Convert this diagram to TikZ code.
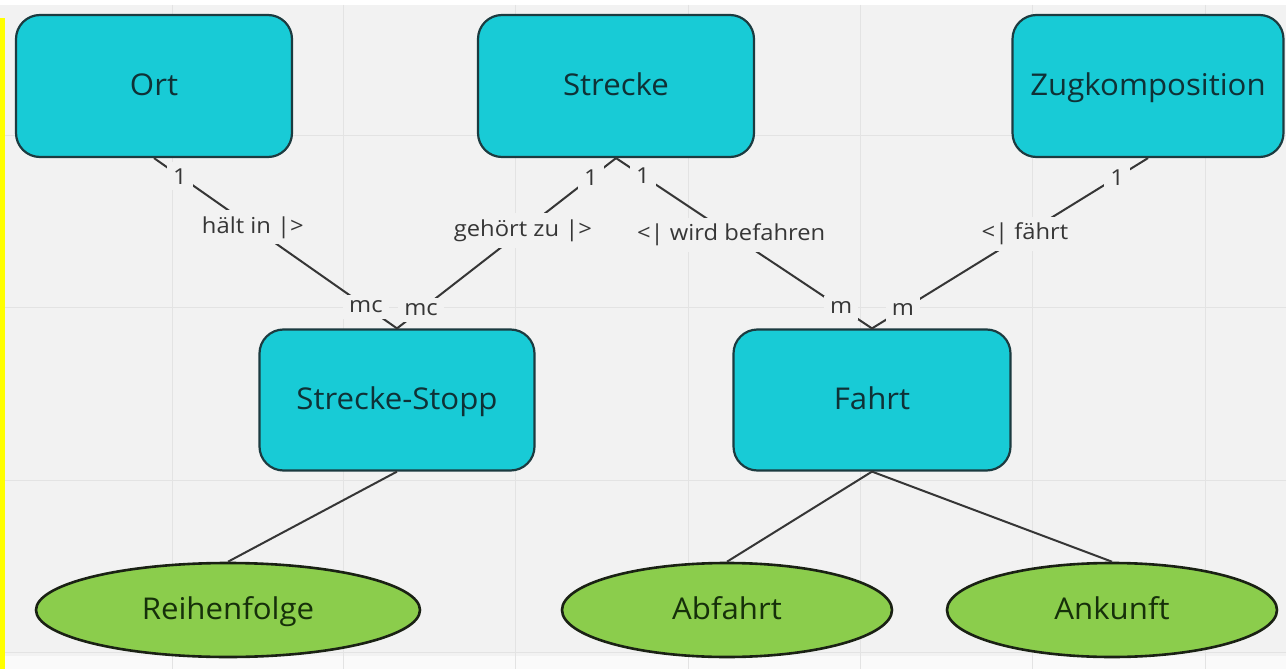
\documentclass[tikz,border=0pt]{standalone}
\usepackage{fontspec}
\setmainfont{Open Sans}
\newfontfamily\boxfont{Open Sans}[FakeStretch=1.04]
\newfontfamily\cardfont{Open Sans}[FakeStretch=1.08]
\usetikzlibrary{shapes.geometric}

\definecolor{canvas}{HTML}{F2F2F2}
\definecolor{gridcol}{HTML}{E3E3E3}
\definecolor{entityfill}{HTML}{18CBD6}
\definecolor{entityline}{HTML}{1C3B40}
\definecolor{entitytext}{HTML}{0F3136}
\definecolor{attrfill}{HTML}{8BCD4C}
\definecolor{attrline}{HTML}{1A2114}
\definecolor{attrtext}{HTML}{16300A}
\definecolor{linecol}{HTML}{363636}
\definecolor{labeltext}{HTML}{363636}
\definecolor{marker}{HTML}{FFFF00}

\tikzset{
  entity/.style={draw=entityline, line width=2.2pt, fill=entityfill,
    rounded corners=24pt, minimum width=276pt, minimum height=142pt,
    font=\boxfont\fontsize{30}{36}\selectfont, text=entitytext,
    text height=21.6pt, text depth=3pt},
  attribute/.style={ellipse, draw=attrline, line width=2.6pt, fill=attrfill,
    minimum height=94pt, inner sep=0pt,
    font=\boxfont\fontsize{30}{36}\selectfont, text=attrtext,
    text height=21.6pt, text depth=3pt},
  rel/.style={draw=linecol, line width=2pt},
  card/.style={fill=canvas, font=\cardfont\fontsize{22}{26}\selectfont,
    text=labeltext, inner sep=6pt}
}

\begin{document}
\begin{tikzpicture}[x=1pt, y=-1pt]
  \useasboundingbox (0,0) rectangle (1286,669);

  % canvas and board grid
  \fill[canvas] (0,0) rectangle (1286,669);
  \fill[white] (0,0) rectangle (1286,5);
  \fill[white!60!canvas] (0,656) rectangle (1286,669);
  \foreach \gx in {172,343,515,688,860,1032,1205}
    \draw[gridcol, line width=1pt] (\gx,5) -- (\gx,669);
  \foreach \gy in {135,307,480,652}
    \draw[gridcol, line width=1pt] (0,\gy) -- (1286,\gy);
  \fill[marker] (0,18) rectangle (5,669);

  % entities
  \node[entity] (ort)   at (154,86)  {Ort};
  \node[entity] (str)   at (616,86)  {Strecke};
  \node[entity, minimum width=271pt] (zug) at (1148,86) {Zugkomposition};
  \node[entity, minimum width=275pt, minimum height=141pt] (ss) at (397,400) {Strecke-Stopp};
  \node[entity, minimum width=277pt, minimum height=141pt] (fahrt) at (872,400) {Fahrt};

  % attributes
  \node[attribute, minimum width=384pt] (reihe) at (228,610) {Reihenfolge};
  \node[attribute, minimum width=330pt] (abf)   at (727,610) {Abfahrt};
  \node[attribute, minimum width=330pt] (ank)   at (1112,610) {Ankunft};

  % relationships
  \draw[rel] (ort.south) --
    node[card, pos=0.107] {1}
    node[card, pos=0.407] {hält in |>}
    node[card, pos=0.872] {mc} (ss.north);
  \draw[rel] (str.south) --
    node[card, pos=0.114] {1}
    node[card, pos=0.425] {gehört zu |>}
    node[card, pos=0.89] {mc} (ss.north);
  \draw[rel] (str.south) --
    node[card, pos=0.105] {1}
    node[card, pos=0.45] {<| wird befahren}
    node[card, pos=0.88] {m} (fahrt.north);
  \draw[rel] (zug.south) --
    node[card, pos=0.112] {1}
    node[card, pos=0.446] {<| fährt}
    node[card, pos=0.888] {m} (fahrt.north);

  % attribute links
  \draw[rel] (ss.south) -- (reihe.north);
  \draw[rel] (fahrt.south) -- (abf.north);
  \draw[rel] (fahrt.south) -- (ank.north);
\end{tikzpicture}
\end{document}
